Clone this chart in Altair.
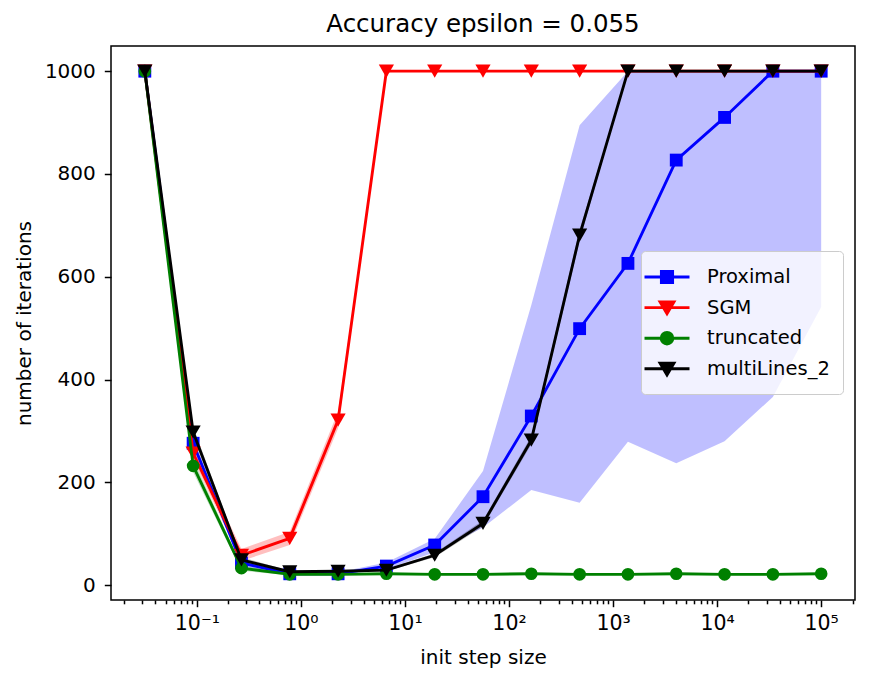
import altair as alt
import pandas as pd

# ---------------- data ----------------
x_values = [0.03162, 0.0921, 0.2683, 0.7814, 2.276, 6.629, 19.31, 56.23,
            163.8, 477.1, 1389.5, 4047, 11788, 34333, 100000]

series_names = ["Proximal", "SGM", "truncated", "multiLines_2"]
series_colors = ["#0000ff", "#ff0000", "#008000", "#000000"]
series_shapes = ["square", "triangle-down", "circle", "triangle-down"]

proximal_mean = [1000, 276, 43, 22, 22, 37, 78, 172, 329, 499, 626, 827, 910, 1000, 1000]
proximal_lo = [1000, 266, 37, 19, 19, 31, 64, 112, 185, 160, 279, 237, 280, 366, 541]
proximal_hi = [1000, 286, 50, 25, 25, 44, 90, 222, 545, 895, 1000, 1000, 1000, 1000, 1000]

sgm_mean = [1000, 257, 58, 91, 321, 1000, 1000, 1000, 1000, 1000, 1000, 1000, 1000, 1000, 1000]
sgm_lo = [1000, 245, 47, 78, 305, 1000, 1000, 1000, 1000, 1000, 1000, 1000, 1000, 1000, 1000]
sgm_hi = [1000, 270, 70, 104, 338, 1000, 1000, 1000, 1000, 1000, 1000, 1000, 1000, 1000, 1000]

truncated_mean = [1000, 232, 33, 21, 21, 22, 21, 21, 22, 21, 21, 22, 21, 21, 22]
truncated_lo = [1000, 220, 28, 19, 19, 20, 19, 19, 20, 19, 19, 20, 19, 19, 20]
truncated_hi = [1000, 245, 38, 23, 23, 24, 23, 23, 24, 23, 23, 24, 23, 23, 24]

multi_mean = [1000, 298, 49, 26, 27, 29, 58, 120, 282, 681, 1000, 1000, 1000, 1000, 1000]
multi_lo = [1000, 288, 44, 24, 25, 27, 54, 114, 274, 670, 1000, 1000, 1000, 1000, 1000]
multi_hi = [1000, 308, 54, 28, 29, 31, 62, 126, 290, 692, 1000, 1000, 1000, 1000, 1000]

major_x_ticks = [0.1, 1, 10, 100, 1000, 10000, 100000]
minor_x_ticks = [m * 10 ** e for e in range(-2, 6) for m in range(2, 10)]
y_ticks = [0, 200, 400, 600, 800, 1000]

# legend symbols: a line segment plus the marker
legend_paths = [
    "M-2,0H2M-0.5,-0.5H0.5V0.5H-0.5Z",
    "M-2,0H2M-0.62,-0.5H0.62L0,0.55Z",
    "M-2,0H2M0.52,0A0.52,0.52,0,1,1,-0.52,0A0.52,0.52,0,1,1,0.52,0Z",
    "M-2,0H2M-0.62,-0.5H0.62L0,0.55Z",
]

# ---------------- tables ----------------
means = [proximal_mean, sgm_mean, truncated_mean, multi_mean]
los = [proximal_lo, sgm_lo, truncated_lo, multi_lo]
his = [proximal_hi, sgm_hi, truncated_hi, multi_hi]
rows = []
for name, m_, l_, h_ in zip(series_names, means, los, his):
    for x, m, l, h in zip(x_values, m_, l_, h_):
        rows.append({"series": name, "step": x, "mean": m, "lo": l, "hi": h})
df = pd.DataFrame(rows)
minor_df = pd.DataFrame({"v": [v for v in minor_x_ticks if 0.01496 <= v <= 211349]})
legend_df = pd.DataFrame({"series": series_names})

x_scale = alt.Scale(type="log", domain=[0.01496, 211349], nice=False)
y_scale = alt.Scale(domain=[-29, 1049], nice=False, zero=False)

label_expr = ("datum.value < 0.5 ? '10⁻¹' : datum.value < 5 ? '10⁰' : "
              "datum.value < 50 ? '10¹' : datum.value < 500 ? '10²' : "
              "datum.value < 5000 ? '10³' : datum.value < 50000 ? '10⁴' : '10⁵'")

x_axis_main = alt.Axis(values=major_x_ticks, labelExpr=label_expr, title="init step size",
                       tickSize=6.7, labelPadding=7, titlePadding=13, orient="bottom",
                       labelFlush=False, labelOverlap=False, grid=False, domain=False,
                       labelFontSize=20.5)
x_axis_minor = alt.Axis(values=minor_df["v"].tolist(), labels=False, tickSize=3.8,
                        title=None, orient="bottom", domain=False, grid=False)
y_axis = alt.Axis(values=y_ticks, title="number of iterations", tickSize=6.7,
                  labelPadding=9, titlePadding=10, format="d", grid=False, domain=False)

layers = []
# bands
for i, (name, col) in enumerate(zip(series_names, series_colors)):
    axis = x_axis_main if i == 0 else None
    band = alt.Chart(df).transform_filter(alt.datum.series == name).mark_area(
        color=col, opacity=0.25, strokeWidth=0
    ).encode(
        x=alt.X("step:Q", scale=x_scale, axis=axis),
        y=alt.Y("lo:Q", scale=y_scale, axis=y_axis),
        y2="hi:Q",
    )
    layers.append(band)

sizes = {"square": 165, "triangle-down": 230, "circle": 160}
for name, col, shp in zip(series_names, series_colors, series_shapes):
    base = alt.Chart(df).transform_filter(alt.datum.series == name)
    line = base.mark_line(color=col, strokeWidth=2.85).encode(
        x=alt.X("step:Q", scale=x_scale, axis=None),
        y=alt.Y("mean:Q", scale=y_scale, axis=y_axis),
    )
    pts = base.mark_point(filled=True, shape=shp, size=sizes[shp], color=col, opacity=1).encode(
        x=alt.X("step:Q", scale=x_scale, axis=None),
        y=alt.Y("mean:Q", scale=y_scale, axis=y_axis),
    )
    layers += [line, pts]

leg = alt.Legend(
    title=None, orient="none", legendX=530, legendY=205, padding=13,
    labelOffset=27, rowPadding=5.6, symbolSize=506, symbolStrokeWidth=2.85,
    symbolOpacity=1, labelFontSize=19.5, labelFont="DejaVu Sans", labelColor="black",
    fillColor="rgba(255,255,255,0.8)", strokeColor="#cccccc", cornerRadius=4,
    labelLimit=400,
)
legend_layer = alt.Chart(legend_df).mark_point(filled=True, opacity=0).encode(
    x=alt.value(0), y=alt.value(0),
    fill=alt.Fill("series:N", scale=alt.Scale(domain=series_names, range=series_colors), legend=leg),
    stroke=alt.Stroke("series:N", scale=alt.Scale(domain=series_names, range=series_colors), legend=leg),
    shape=alt.Shape("series:N", scale=alt.Scale(domain=series_names, range=legend_paths), legend=leg),
)
layers.append(legend_layer)

minor_layer = alt.Chart(minor_df).mark_point(opacity=0).encode(
    x=alt.X("v:Q", scale=x_scale, axis=x_axis_minor),
    y=alt.value(0),
)
layers.append(minor_layer)

chart = alt.layer(*layers).resolve_axis(x="independent").properties(
    width=744, height=554,
    background="white",
    autosize=alt.AutoSizeParams(type="none"),
    padding={"left": 111, "top": 46, "right": 23, "bottom": 82},
    title=alt.TitleParams("Accuracy epsilon = 0.055", fontSize=24.5, font="DejaVu Sans",
                          fontWeight="normal", color="black", anchor="middle",
                          offset=-13.5, baseline="alphabetic"),
).configure_axis(
    labelFont="DejaVu Sans", titleFont="DejaVu Sans", labelFontSize=20, titleFontSize=20,
    labelColor="black", titleColor="black", tickColor="black", tickWidth=1.5,
    domain=False, grid=False, titleFontWeight="normal",
).configure_view(stroke="black", strokeWidth=1.5)

chart.save("out.html", embed_options={"renderer": "svg", "actions": False})
